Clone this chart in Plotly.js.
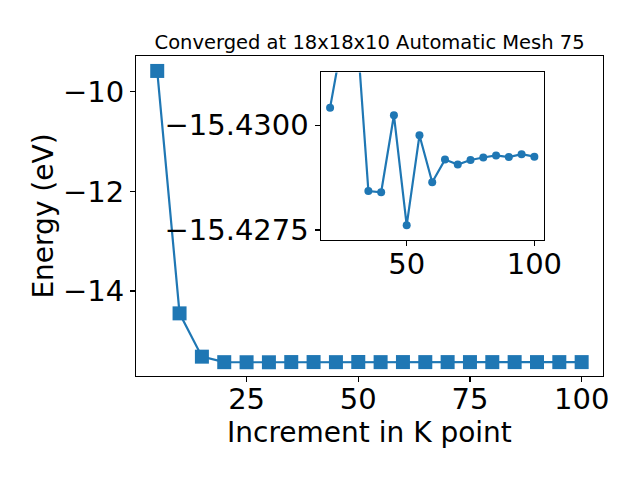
<!DOCTYPE html>
<html>
<head>
<meta charset="utf-8">
<script src="https://cdn.plot.ly/plotly-3.0.1.min.js"></script>
<style>html,body{margin:0;padding:0;background:#fff;}#chart{width:640px;height:480px;}</style>
</head>
<body>
<div id="chart"></div>
<script>
// Main series: k-point increment vs total energy
const kPoints = [5, 10, 15, 20, 25, 30, 35, 40, 45, 50, 55, 60, 65, 70, 75, 80, 85, 90, 95, 100];
const energies = [-9.58, -14.45, -15.32, -15.43042, -15.4321, -15.4327, -15.42843, -15.42840, -15.43024, -15.42761,
                  -15.42976, -15.42864, -15.42918, -15.42906, -15.42917, -15.42923, -15.42928, -15.42924, -15.42931, -15.42925];
// Inset (zoomed) series
const insetK = kPoints.slice(3);
const insetE = energies.slice(3);
const insetTickVals = [-15.4300, -15.4275];
const mainYTicks = [-10, -12, -14];
const mainXTicks = [25, 50, 75, 100];
const insetXTicks = [50, 100];

const blue = '#1f77b4';
const tickFont = {family: 'DejaVu Sans', color: '#000', size: 29};
const labelFont = {family: 'DejaVu Sans', color: '#000', size: 28};

const traces = [
  {x: kPoints, y: energies, type: 'scatter', mode: 'lines+markers', xaxis: 'x', yaxis: 'y',
   line: {color: blue, width: 2.2}, marker: {symbol: 'square', size: 14, color: blue}},
  {x: insetK, y: insetE, type: 'scatter', mode: 'lines+markers', xaxis: 'x2', yaxis: 'y2',
   line: {color: blue, width: 2.2}, marker: {symbol: 'circle', size: 8, color: blue}, cliponaxis: true}
];

const axBase = {showline: true, mirror: true, linecolor: '#000', linewidth: 1.1, ticks: 'outside',
  ticklen: 5, tickwidth: 1.1, tickcolor: '#000', showgrid: false, zeroline: false, tickfont: tickFont};

const layout = {
  width: 640, height: 480, margin: {l: 0, r: 0, t: 0, b: 0},
  paper_bgcolor: '#fff', plot_bgcolor: '#fff', showlegend: false,
  font: tickFont,
  title: {text: 'Converged at 18x18x10 Automatic Mesh 75', font: {family: 'DejaVu Sans', size: 19.5, color: '#000'},
          x: 0.5775, xanchor: 'center', y: 0.9125, yanchor: 'middle'},
  xaxis: Object.assign({}, axBase, {domain: [0.2125, 0.942], range: [0.25, 104.75], tickvals: mainXTicks,
          ticklabelstandoff: -8,
          title: {text: 'Increment in K point', font: labelFont, standoff: 4}}),
  yaxis: Object.assign({}, axBase, {domain: [0.2167, 0.8833], range: [-15.708, -9.28], tickvals: mainYTicks,
          title: {text: 'Energy (eV)', font: labelFont, standoff: 1}}),
  xaxis2: Object.assign({}, axBase, {domain: [0.501, 0.8505], range: [16.3, 103.9], tickvals: insetXTicks, anchor: 'y2',
          ticklabelstandoff: -7}),
  yaxis2: Object.assign({}, axBase, {domain: [0.5, 0.849], range: [-15.42726, -15.43126], tickvals: insetTickVals,
          tickformat: '.4f', anchor: 'x2'})
};

Plotly.newPlot('chart', traces, layout, {staticPlot: true, displayModeBar: false});
</script>
</body>
</html>
